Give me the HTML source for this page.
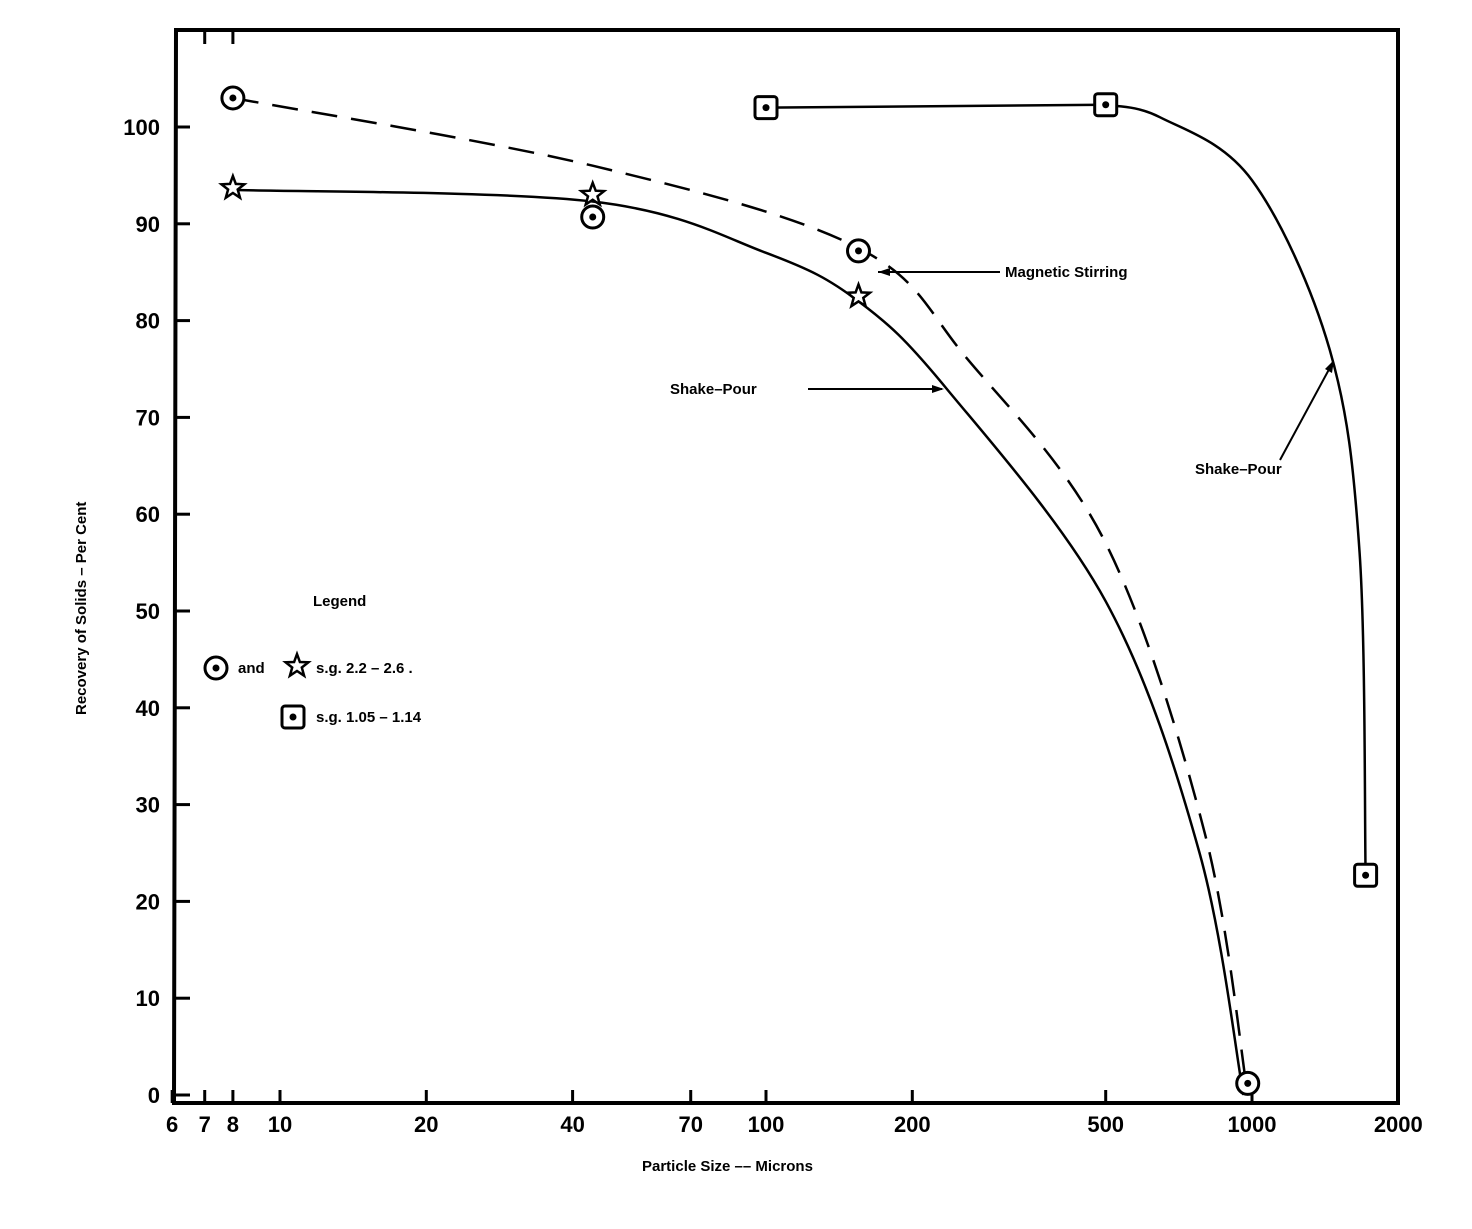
<!DOCTYPE html>
<html><head><meta charset="utf-8"><style>
body{margin:0;background:#fff;}
svg text{font-family:"Liberation Sans",sans-serif;font-weight:bold;fill:#000;}
</style></head><body>
<svg id="chart" width="1472" height="1224" viewBox="0 0 1472 1224">
<g id="frame">
<path d="M176 30 H1398 V1103 H174 Z" fill="none" stroke="#000" stroke-width="4"/>
</g>
<g id="axes"></g>
<g id="curves"></g>
<g id="marks"></g>
<g font-size="15">
<text x="1005" y="277">Magnetic Stirring</text>
<line x1="1000" y1="272" x2="878" y2="272" stroke="#000" stroke-width="2"/>
<path d="M878 272 l12 -4 v8 z" fill="#000"/>
<text x="670" y="394">Shake–Pour</text>
<line x1="808" y1="389" x2="942" y2="389" stroke="#000" stroke-width="2"/>
<path d="M944 389 l-12 -4 v8 z" fill="#000"/>
<text x="1195" y="474">Shake–Pour</text>
<line x1="1280" y1="460" x2="1333" y2="362" stroke="#000" stroke-width="2"/>
<path d="M1334 360 l-2 13 l-7 -4 z" fill="#000"/>
<text x="313" y="606">Legend</text>
<text x="238" y="673">and</text>
<text x="316" y="673">s.g. 2.2 – 2.6 .</text>
<text x="316" y="722">s.g. 1.05 – 1.14</text>
<text x="0" y="0" transform="translate(86,715) rotate(-90)" font-size="15">Recovery of Solids – Per Cent</text>
<text x="642" y="1171" font-size="15">Particle Size –– Microns</text>
</g>
</svg>
<script>
const xTicks=[6,7,8,10,20,40,70,100,200,500,1000,2000];
const yTicks=[0,10,20,30,40,50,60,70,80,90,100];
const circleX=[8,44,155,980];
const circleY=[103,90.7,87.2,1.2];
const starX=[8,44,155];
const starY=[93.7,93,82.5];
const squareX=[100,500,1713];
const squareY=[102,102.3,22.7];
const solidX=[8,44,100,155,235,500,780,960];
const solidY=[93.5,92.3,87,82,73,51,25,0];
const dashX=[8,44,155,260,500,800,980];
const dashY=[103,96,87.5,76,57,27,0];
const sqCurveX=[500,647,1000,1445,1665,1713];
const sqCurveY=[102.3,101,94.5,77,56,22.7];
const NS="http://www.w3.org/2000/svg";
function xs(v){return 766+(Math.log10(v)-2)*486;}
function ys(v){return 1095-v*9.68;}
function el(t,a,p){const e=document.createElementNS(NS,t);for(const k in a)e.setAttribute(k,a[k]);p.appendChild(e);return e;}
const ax=document.getElementById('axes');
xTicks.forEach(v=>{const x=xs(v);
 const l=el('line',{x1:x,y1:1103,x2:x,y2:1090,stroke:'#000','stroke-width':3},ax);
 
 
 const t=el('text',{x:x,y:1132,'text-anchor':'middle','font-size':22},ax);t.textContent=v;
 
 
 if(v===7||v===8){el('line',{x1:x,y1:30,x2:x,y2:44,stroke:'#000','stroke-width':3},ax);}
});
yTicks.forEach(v=>{const y=ys(v);
 const l=el('line',{x1:176,y1:y,x2:190,y2:y,stroke:'#000','stroke-width':3},ax);
 
 
 const t=el('text',{x:160,y:y+8,'text-anchor':'end','font-size':22},ax);t.textContent=v;
 
 
});
function smooth(X,Y){const p=X.map((x,i)=>[xs(x),ys(Y[i])]);let d='M'+p[0][0]+' '+p[0][1];
 for(let i=0;i<p.length-1;i++){const p0=p[i-1]||p[i],p1=p[i],p2=p[i+1],p3=p[i+2]||p2;
 const c1=[p1[0]+(p2[0]-p0[0])/6,p1[1]+(p2[1]-p0[1])/6],c2=[p2[0]-(p3[0]-p1[0])/6,p2[1]-(p3[1]-p1[1])/6];
 d+=' C'+c1[0]+' '+c1[1]+' '+c2[0]+' '+c2[1]+' '+p2[0]+' '+p2[1];}return d;}
const cv=document.getElementById('curves');
let c=el('path',{d:smooth(solidX,solidY),fill:'none',stroke:'#000','stroke-width':2.5},cv);


c=el('path',{d:smooth(dashX,dashY),fill:'none',stroke:'#000','stroke-width':2.5,'stroke-dasharray':'26 14'},cv);


c=el('line',{x1:xs(squareX[0]),y1:ys(squareY[0]),x2:xs(squareX[1]),y2:ys(squareY[1]),stroke:'#000','stroke-width':2.5},cv);


c=el('path',{d:smooth(sqCurveX,sqCurveY),fill:'none',stroke:'#000','stroke-width':2.5},cv);


const mk=document.getElementById('marks');
function circ(x,y,g){el('circle',{cx:x,cy:y,r:11,fill:'#fff',stroke:'#000','stroke-width':3},g);el('circle',{cx:x,cy:y,r:3.5,fill:'#000'},g);}
function sq(x,y,g){el('rect',{x:x-11,y:y-11,width:22,height:22,rx:3,fill:'#fff',stroke:'#000','stroke-width':3},g);el('circle',{cx:x,cy:y,r:3.5,fill:'#000'},g);}
function star(x,y,g){let pts=[];for(let i=0;i<10;i++){const r=i%2?5:12,a=-Math.PI/2+i*Math.PI/5;pts.push((x+r*Math.cos(a)).toFixed(1)+','+(y+r*Math.sin(a)).toFixed(1));}
 el('polygon',{points:pts.join(' '),fill:'#fff',stroke:'#000','stroke-width':2.5},g);}
circleX.forEach((v,i)=>{const g=el('g',{},mk);
 
 
 circ(xs(v),ys(circleY[i]),g);});
starX.forEach((v,i)=>{const g=el('g',{},mk);
 
 
 star(xs(v),ys(starY[i]),g);});
squareX.forEach((v,i)=>{const g=el('g',{},mk);
 
 
 sq(xs(v),ys(squareY[i]),g);});
const lg=el('g',{},mk);


circ(216,668,lg);star(297,666,lg);sq(293,717,lg);
</script>
</body></html>
